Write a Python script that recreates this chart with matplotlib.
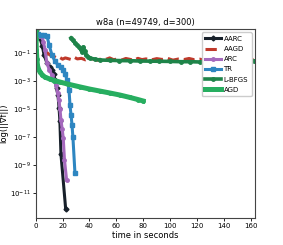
import matplotlib
matplotlib.use("Agg")
import matplotlib.pyplot as plt
import numpy as np

# values (time in s, log10 of gradient norm)
aarc_t = [0.2, 1.5, 3.2, 5.0, 6.2, 8.4, 10.5, 12.1, 13.4, 14.3, 15.5, 16.6, 17.4, 18.0, 18.8, 22.3]
aarc_g = [0.66, 0.4, 0.1, -0.5, -1.1, -1.7, -2.0, -2.2, -2.5, -2.9, -3.5, -4.0, -4.9, -5.8, -8.2, -12.1]

aagd_t = [7.8, 9.0, 10.6, 12.0, 14.3, 16.0, 18.0, 20.0, 22.0, 24.0, 26.5, 29.0, 31.0, 34.0, 37.0,
          40.0, 43.0, 46.0, 49.0, 52.0, 55.0, 58.0, 61.0, 64.0, 67.0, 70.0, 73.0, 76.0, 79.0, 82.0,
          86.0, 90.0, 94.0, 98.0, 102.0, 106.0, 110.0, 114.0, 118.0, 122.0, 126.0, 130.0, 134.0,
          138.0, 142.0, 146.0, 150.0, 154.0, 158.0, 162.0]
aagd_g = [-0.89, -1.0, -1.12, -1.2, -1.26, -1.35, -1.3, -1.42, -1.33, -1.38, -1.45, -1.3, -1.4, -1.36, -1.47,
          -1.35, -1.42, -1.5, -1.38, -1.44, -1.33, -1.46, -1.4, -1.48, -1.37, -1.43, -1.5, -1.36, -1.45, -1.4,
          -1.47, -1.38, -1.44, -1.36, -1.49, -1.41, -1.45, -1.37, -1.46, -1.42, -1.5, -1.4, -1.35,
          -1.46, -1.43, -1.48, -1.39, -1.45, -1.42, -1.47]

arc_t = [0.2, 2.5, 4.7, 5.8, 6.9, 8.4, 10.2, 12.1, 13.6, 15.1, 16.3, 17.3, 18.1, 18.8, 19.7, 20.5, 21.4, 23.0]
arc_g = [0.3, 0.22, 0.16, -0.2, -0.76, -1.7, -2.2, -2.55, -2.9, -3.26, -3.8, -4.34, -5.0, -5.76, -6.4, -7.05, -8.6, -10.05]

tr_t = [0.2, 2.0, 4.0, 6.0, 8.4, 10.0, 12.1, 14.3, 16.6, 18.5, 20.3, 22.0, 23.3, 24.8, 25.5, 26.3, 27.0, 27.7, 29.2]
tr_g = [0.38, 0.35, 0.32, 0.3, 0.24, -0.4, -1.12, -1.55, -1.84, -2.0, -2.19, -2.5, -2.9, -3.6, -4.7, -5.4, -6.1, -7.0, -9.55]

lbfgs_t = [26.2, 27.7, 29.2, 30.7, 32.2, 33.4, 34.4, 35.5, 36.4, 37.4, 39.0, 40.4, 44.0, 47.8, 55.0, 62.0,
           70.0, 77.5, 85.0, 92.0, 100.0, 108.0, 115.0, 122.0, 130.0, 138.0, 146.0, 154.0, 162.3]
lbfgs_g = [0.09, -0.08, -0.26, -0.4, -0.55, -0.72, -0.9, -0.55, -0.85, -1.12, -1.25, -1.34, -1.42, -1.48, -1.5, -1.52,
           -1.53, -1.55, -1.56, -1.57, -1.58, -1.6, -1.6, -1.62, -1.6, -1.58, -1.57, -1.56, -1.55]

agd_t = [0.0, 0.3, 0.5, 0.9, 1.3, 2.0, 3.2, 5.0, 6.9, 10.6, 14.0, 18.0, 24.0, 33.0, 40.0, 48.0,
         55.0, 62.7, 70.0, 76.0, 79.8]
agd_g = [0.66, 0.0, -0.76, -1.4, -1.84, -2.1, -2.34, -2.55, -2.7, -2.84, -2.95, -3.05, -3.2, -3.4, -3.55, -3.7,
         -3.83, -3.98, -4.15, -4.3, -4.4]

series = [
    ("AARC", aarc_t, aarc_g, "#17202a", "-", "D", 2.2, 2.5),
    ("AAGD", aagd_t, aagd_g, "#c0392b", "--", None, 2.2, 0),
    ("ARC", arc_t, arc_g, "#a569bd", "-", "o", 2.2, 2.5),
    ("TR", tr_t, tr_g, "#2e86c1", "-", "s", 2.2, 3),
    ("L-BFGS", lbfgs_t, lbfgs_g, "#1e8449", "-", "o", 2.6, 2.5),
    ("AGD", agd_t, agd_g, "#27ae60", "-", "o", 3.6, 2.5),
]

fig = plt.figure(figsize=(2.83, 2.45), dpi=100)
ax = fig.add_axes([0.126, 0.111, 0.775, 0.771])

for name, t, g, c, ls, mk, lw, ms in series:
    ax.plot(t, 10.0 ** np.array(g), color=c, linestyle=ls, marker=mk, markersize=ms,
            linewidth=lw, label=name)

ax.set_yscale("log")
ax.set_xlim(0, 163)
ax.set_ylim(10 ** -12.74, 10 ** 0.74)
ax.set_yticks([1e-11, 1e-9, 1e-7, 1e-5, 1e-3, 1e-1])
ax.yaxis.set_minor_locator(matplotlib.ticker.NullLocator())
ax.set_xticks([0, 20, 40, 60, 80, 100, 120, 140, 160])
ax.tick_params(labelsize=5, length=2, width=0.6, pad=1.5)
for s in ax.spines.values():
    s.set_linewidth(0.8)
    s.set_color("#444444")

ax.set_title("w8a (n=49749, d=300)", fontsize=6, pad=3)
ax.set_xlabel("time in seconds", fontsize=6, labelpad=2)
ax.set_ylabel("log(||\u2207f||)", fontsize=6, labelpad=1)
ax.legend(loc="upper right", fontsize=5, handlelength=2.2, borderpad=0.5, labelspacing=0.6,
          handletextpad=0.4, framealpha=1)

fig.savefig("out.png", dpi=100)
